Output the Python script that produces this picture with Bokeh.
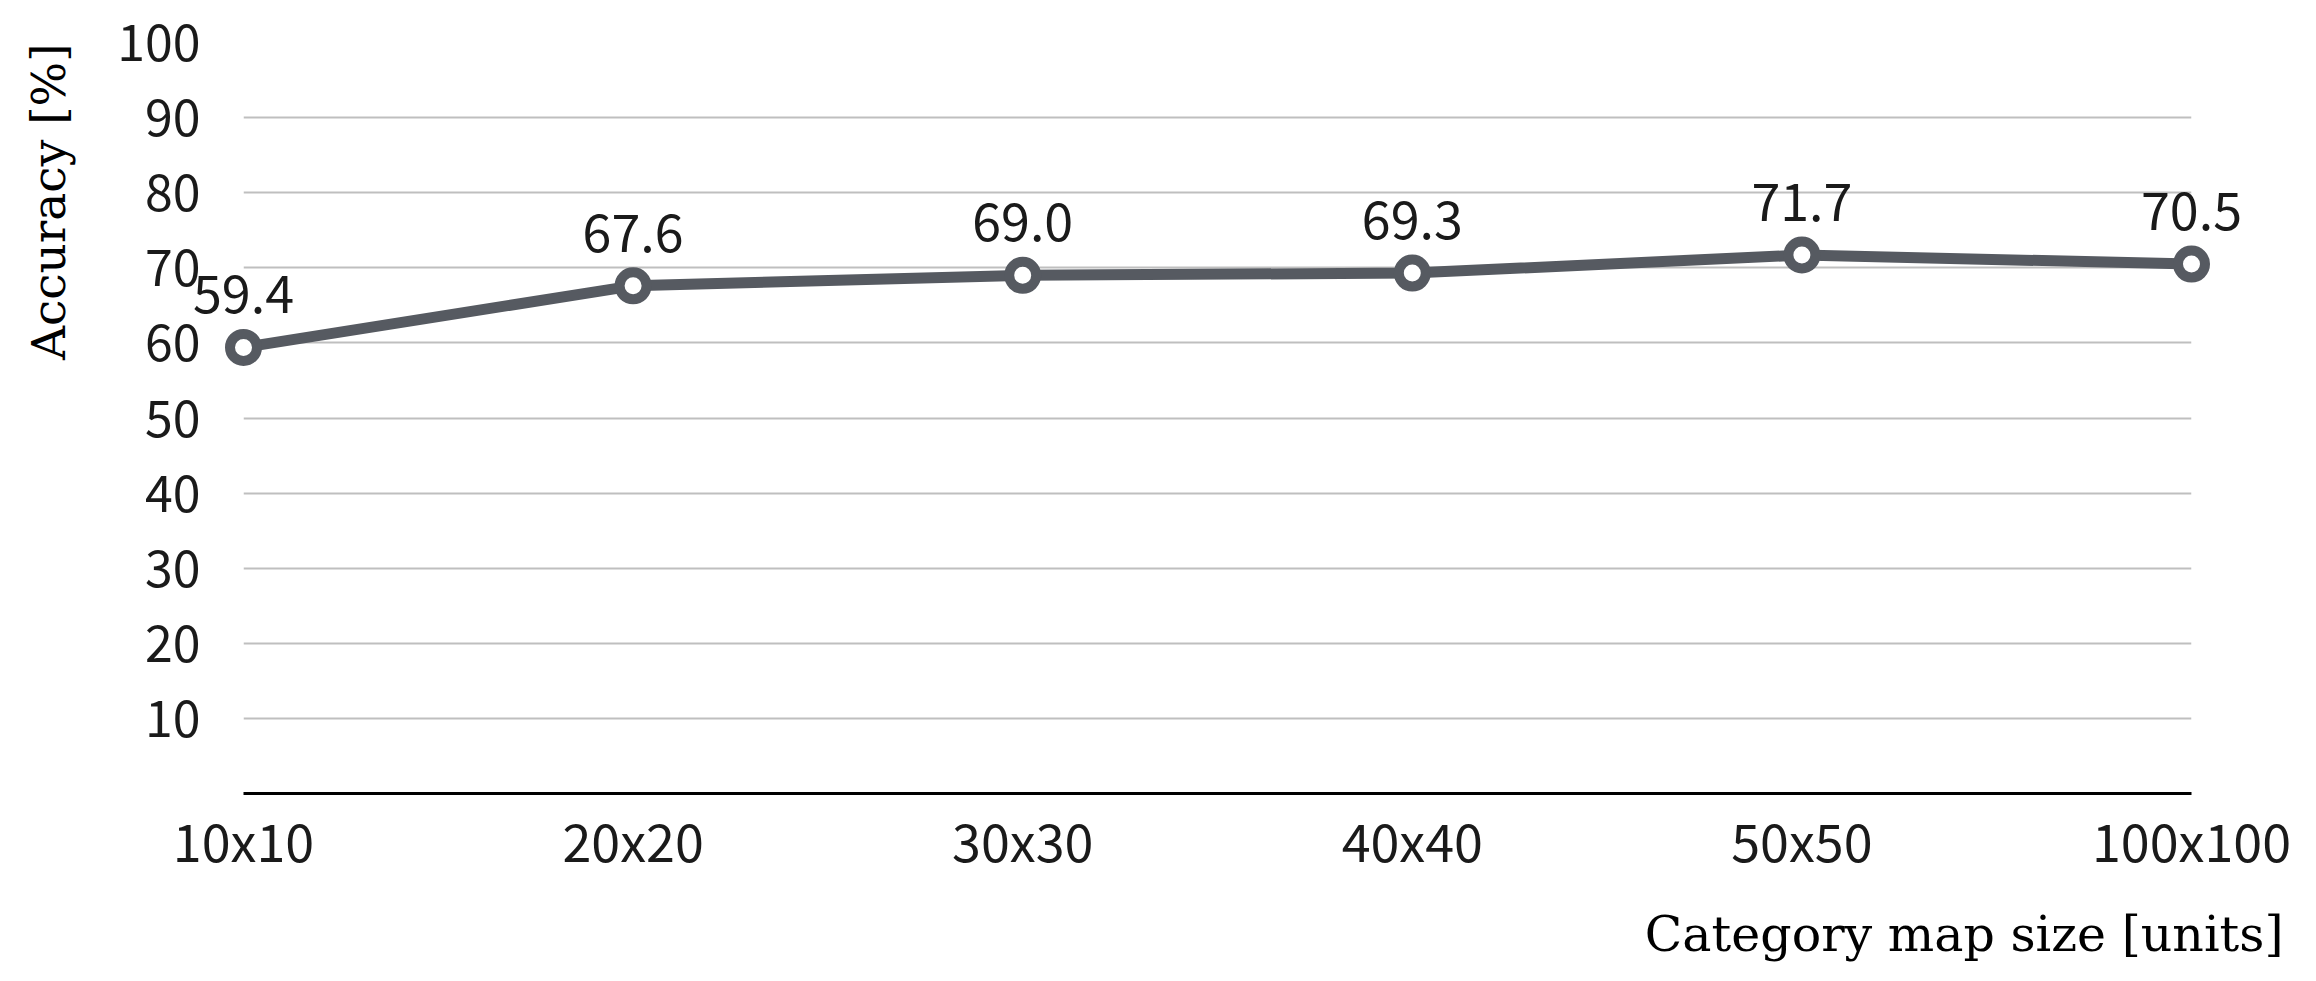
import math
from bokeh.plotting import figure
from bokeh.models import Range1d, FixedTicker, ColumnDataSource
from bokeh.core.properties import value
from bokeh.embed import file_html
from bokeh.resources import INLINE

# ---- data ----
categories = ["10x10", "20x20", "30x30", "40x40", "50x50", "100x100"]
accuracy = [59.4, 67.6, 69.0, 69.3, 71.7, 70.5]
y_ticks = [10, 20, 30, 40, 50, 60, 70, 80, 90, 100]
x_title = "Category map size [units]"
y_title = "Accuracy [%]"

# ---- styles ----
LINE_COL = "#565a61"
SANS = "Noto Sans CJK JP"
SERIF = "DejaVu Serif"

xs = list(range(len(categories)))
labels = [f"{v:.1f}" for v in accuracy]
src = ColumnDataSource(dict(x=xs, y=accuracy, label=labels))

x0, x1 = 0, len(categories) - 1
y0, y1 = 0, 100

p = figure(width=2300, height=975, output_backend="svg", toolbar_location=None,
           x_range=Range1d(x0, x1), y_range=Range1d(y0, y1),
           min_border_left=243, min_border_right=109, min_border_top=42,
           min_border_bottom=182)
p.outline_line_color = None
p.background_fill_color = "white"
p.border_fill_color = "white"

p.xgrid.visible = False
p.ygrid.ticker = FixedTicker(ticks=y_ticks)
p.ygrid.grid_line_color = "#bfbfbf"
p.ygrid.grid_line_width = 2

yax = p.yaxis[0]
yax.ticker = FixedTicker(ticks=y_ticks)
yax.axis_line_color = None
yax.major_tick_line_color = None
yax.minor_tick_line_color = None
yax.major_tick_out = 0
yax.major_label_standoff = 43
yax.major_label_text_font = SANS
yax.major_label_text_font_size = "50px"
yax.major_label_text_color = "#1a1a1a"

xax = p.xaxis[0]
xax.ticker = FixedTicker(ticks=xs)
xax.major_label_overrides = {i: c for i, c in enumerate(categories)}
xax.axis_line_color = "black"
xax.axis_line_width = 3
xax.major_tick_line_color = None
xax.minor_tick_line_color = None
xax.major_tick_out = 0
xax.major_label_standoff = 8
xax.major_label_text_font = SANS
xax.major_label_text_font_size = "52px"
xax.major_label_text_color = "#1a1a1a"

p.line("x", "y", source=src, line_color=LINE_COL, line_width=11,
       line_join="round", level="annotation")
p.scatter("x", "y", source=src, marker="circle", size=27, line_width=10,
          line_color=LINE_COL, fill_color="white", level="annotation")
p.text("x", "y", text="label", source=src, text_align="center",
       text_baseline="alphabetic", y_offset=-53, text_font=value(SANS),
       text_font_size="52px", text_color="#1a1a1a", level="annotation")

# axis titles, anchored at frame corners
xt_src = ColumnDataSource(dict(x=[x1], y=[y0], t=[x_title]))
p.text("x", "y", text="t", source=xt_src, text_align="right",
       text_baseline="alphabetic", x_offset=92, y_offset=141,
       text_font=value(SERIF), text_font_size="49px", text_color="black",
       level="annotation")
yt_src = ColumnDataSource(dict(x=[x0], y=[y1], t=[y_title]))
p.text("x", "y", text="t", source=yt_src, text_align="right",
       text_baseline="alphabetic", angle=math.pi / 2, x_offset=-195,
       y_offset=1, text_font=value(SERIF), text_font_size="47px",
       text_color="black", level="annotation")

open("out.html", "w").write(file_html(p, INLINE))
